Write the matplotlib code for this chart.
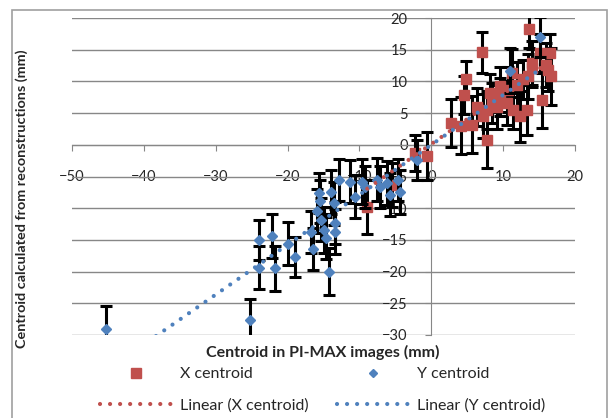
import matplotlib.pyplot as plt
from matplotlib.lines import Line2D
from matplotlib.patches import Rectangle
import numpy as np

plt.rcParams['font.family'] = ['Lato', 'DejaVu Sans']

# X centroid (red squares)
xc_x = [-8.9, -5.5, -2.3, -0.6, 2.8, 4.2, 5.6, 4.8, 4.5, 7.0, 6.3, 7.7, 7.2, 7.7, 8.4, 8.2, 9.1,
        9.6, 9.6, 10.5, 10.7, 11.2, 11.4, 11.9, 12.3, 12.8, 13.3, 13.5, 13.6, 14.0, 14.0, 15.1,
        15.4, 16.0, 16.2, 16.5, 16.6]
xc_y = [-9.8, -6.3, -1.3, -1.8, 3.5, 3.0, 3.2, 10.4, 7.9, 14.6, 6.0, 0.8, 4.5, 5.5, 6.6, 8.2, 6.0,
        7.6, 9.2, 6.6, 8.7, 11.3, 5.5, 9.5, 4.5, 10.3, 5.5, 10.8, 18.3, 12.9, 12.1, 14.5,
        7.0, 12.6, 11.8, 14.5, 10.8]
xc_err = [4.3, 3.5, 2.8, 3.8, 3.8, 4.5, 4.5, 2.8, 3.0, 3.2, 3.0, 4.4, 3.5, 3.0, 3.2, 3.0, 3.5,
          3.0, 3.0, 3.5, 3.5, 3.8, 3.0, 3.5, 4.0, 3.0, 4.0, 3.5, 3.0, 3.5, 3.0, 3.0,
          4.3, 3.5, 3.3, 3.0, 4.5]

# Y centroid (blue diamonds)
yc_x = [-45.2, -25.2, -24.0, -24.0, -22.2, -21.7, -20.0, -18.9, -16.8, -16.5, -15.9, -15.6, -15.5,
        -15.3, -14.9, -14.7, -14.2, -13.9, -13.5, -13.4, -13.4, -12.8, -11.3, -10.6, -9.7, -9.2,
        -7.6, -7.1, -6.2, -5.7, -4.6, -4.4, -2.0, 10.9, 15.1]
yc_y = [-29.1, -27.6, -15.0, -19.4, -14.4, -19.5, -15.6, -17.7, -13.7, -16.5, -10.4, -7.6, -8.9,
        -11.8, -13.4, -14.7, -20.0, -7.4, -9.2, -12.4, -13.7, -5.5, -5.8, -8.2, -5.8, -6.6,
        -5.5, -6.6, -6.0, -7.9, -5.5, -7.4, -2.4, 11.7, 17.0]
yc_err = [3.6, 3.3, 3.2, 3.4, 3.5, 3.5, 3.4, 3.2, 3.3, 3.3, 3.5, 3.2, 3.4,
          3.4, 3.6, 3.3, 3.7, 3.5, 3.4, 3.3, 3.5, 3.3, 3.4, 3.4, 3.5, 3.3,
          3.4, 3.3, 3.5, 3.4, 3.3, 3.5, 3.2, 3.6, 3.2]

red = '#C0504D'
blue = '#4F81BD'
grey = '#878787'
txt = '#262626'

fig = plt.figure(figsize=(6.1, 4.18), dpi=100)
fig.patches.append(Rectangle((12 / 610, -0.05), 595 / 610, 1 - 10 / 418 + 0.05,
                             transform=fig.transFigure, fill=False, edgecolor='#a0a0a0', lw=1.2))
ax = fig.add_axes([72 / 610, 1 - 335 / 418, 503 / 610, 317 / 418])
ax.set_xlim(-50, 20)
ax.set_ylim(-30, 20)

ax.errorbar(xc_x, xc_y, yerr=xc_err, fmt='s', color=red, ms=7, ecolor='black',
            elinewidth=2.2, capsize=4, capthick=2.2, zorder=3)
ax.errorbar(yc_x, yc_y, yerr=yc_err, fmt='D', color=blue, ms=5, ecolor='black',
            elinewidth=2.2, capsize=4, capthick=2.2, zorder=4)

# linear trendlines like Excel
dots = (0, (0.01, 2.4))
px = np.polyfit(xc_x, xc_y, 1)
xs = np.array([min(xc_x), max(xc_x)])
ax.plot(xs, np.polyval(px, xs), color=red, lw=3, ls=dots, dash_capstyle='round', zorder=5)
py = np.polyfit(yc_x, yc_y, 1)
xs = np.array([min(yc_x), max(yc_x)])
ax.plot(xs, np.polyval(py, xs), color=blue, lw=3, ls=dots, dash_capstyle='round', zorder=5)

for s in ['top', 'right']:
    ax.spines[s].set_visible(False)
ax.spines['left'].set_position(('data', 0))
ax.spines['bottom'].set_position(('data', 0))
ax.spines['left'].set_color(grey)
ax.spines['bottom'].set_color(grey)
ax.set_xticks(np.arange(-50, 21, 10))
ax.set_yticks(np.arange(-30, 21, 5))
ax.yaxis.grid(True, color=grey, lw=1)
ax.set_axisbelow(True)
ax.tick_params(axis='x', direction='out', length=4, pad=14, colors=grey, labelcolor=txt,
               labelsize=10.5)
ax.tick_params(axis='y', direction='out', length=4, pad=13, colors=grey, labelcolor=txt,
               labelsize=10.5)

fig.text(323 / 610, 1 - 352 / 418, 'Centroid in PI-MAX images (mm)', ha='center', va='center',
         fontsize=11.5, fontweight='bold', color=txt)
fig.text(22 / 610, 1 - 199 / 418, 'Centroid calculated from reconstructions (mm)', ha='center',
         va='center', rotation=90, fontsize=10.4, fontweight='bold', color=txt)

handles = [
    Line2D([], [], ls='none', marker='s', color=red, ms=6.5),
    Line2D([], [], color=red, lw=3, ls=dots, dash_capstyle='round'),
    Line2D([], [], ls='none', marker='D', color=blue, ms=4.5),
    Line2D([], [], color=blue, lw=3, ls=dots, dash_capstyle='round'),
]
labels = ['X centroid', 'Linear (X centroid)', 'Y centroid', 'Linear (Y centroid)']
fig.legend(handles, labels, ncol=2, loc='upper left', bbox_to_anchor=(100 / 610, 1 - 367 / 418),
           frameon=False, borderpad=0, borderaxespad=0, handlelength=4.5, handletextpad=0.5,
           columnspacing=1.8, labelspacing=1.05, fontsize=11.5, labelcolor=txt)

fig.savefig('out.png', dpi=100)
